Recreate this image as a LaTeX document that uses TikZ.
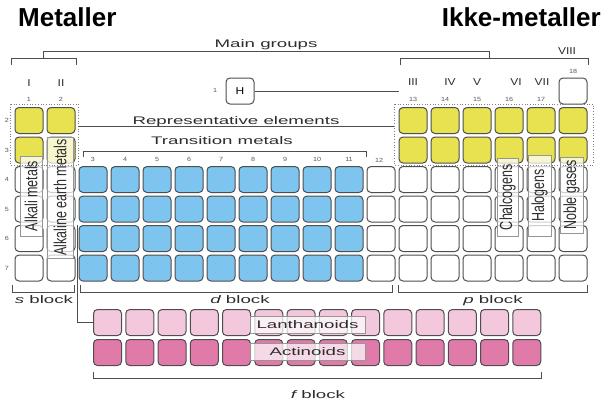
\documentclass[tikz,border=0pt]{standalone}
\usepackage{fontspec}
\setmainfont{Liberation Sans}
\newfontfamily\wide[FakeStretch=1.7]{Liberation Sans}
\newfontfamily\midwide[FakeStretch=1.2]{Liberation Sans}
\definecolor{elyellow}{RGB}{232,226,80}
\definecolor{elblue}{RGB}{125,196,238}
\definecolor{lanpink}{RGB}{243,200,220}
\definecolor{actpink}{RGB}{224,122,168}
\definecolor{edge}{RGB}{78,78,78}
\definecolor{tagedge}{RGB}{150,150,150}
\definecolor{txt}{RGB}{45,45,45}
\begin{document}
\begin{tikzpicture}[x=1pt,y=-1pt,
  cell/.style={draw=edge, line width=1pt, rounded corners=4pt, minimum width=28pt,
               minimum height=26pt, inner sep=0pt, fill=white},
  tag/.style={draw=tagedge, line width=0.6pt, fill=white, fill opacity=0.72,
              text opacity=1, inner sep=0pt, text=txt},
  vtag/.style={tag, rotate=90, font=\fontsize{12.5}{14}\selectfont},
  htag/.style={tag, font=\wide\fontsize{11}{13}\selectfont},
  brk/.style={draw=edge, line width=0.9pt},
  dotbox/.style={draw=gray, line width=0.7pt, dotted},
  lbl/.style={font=\wide\fontsize{11}{13}\selectfont, text=txt, inner sep=0pt, anchor=base},
  num/.style={font=\midwide\fontsize{6}{7}\selectfont, text=txt!80, inner sep=0pt},
  rom/.style={font=\midwide\fontsize{10}{12}\selectfont, text=txt, inner sep=0pt},
  title/.style={font=\bfseries\fontsize{26}{30}\selectfont, inner sep=0pt}]
\useasboundingbox (0,0) rectangle (612,402);

% headings
\node[title, anchor=base west] (tmet) at (18,26) {Metaller};
\node[title, anchor=base east] (tnon) at (601,26) {Ikke-metaller};

% periods 4-7: s, d and p block cells
\foreach \r in {4,...,7}{
  \foreach \g in {1,...,18}{
    \ifnum\g>2 \ifnum\g<12 \def\cf{elblue}\else\def\cf{white}\fi\else\def\cf{white}\fi
    \node[cell, fill=\cf] (c\r-\g) at ({29+32*(\g-1)}, {150+29.5*(\r-3)}) {};
  }
}
% periods 2-3: representative elements
\foreach \r in {2,3}{
  \foreach \g in {1,2,13,14,15,16,17,18}{
    \node[cell, fill=elyellow] (c\r-\g) at ({29+32*(\g-1)}, {150+29.5*(\r-3)}) {};
  }
}
% period 1
\node[cell, font=\midwide\fontsize{10}{12}\selectfont] (H) at (240,91) {H};
\node[cell] (c1-18) at (573,91) {};

% f block
\foreach \k in {1,...,14}{
  \node[cell, fill=lanpink] (la\k) at ({107.5+32.25*(\k-1)}, 322.5) {};
  \node[cell, fill=actpink] (ac\k) at ({107.5+32.25*(\k-1)}, 352.5) {};
}

% family labels
\node[vtag, minimum width=80pt, minimum height=22pt] (alk) at (31,196) {\scalebox{1}[1.4]{Alkali metals}};
\node[vtag, minimum width=121pt, minimum height=26pt] (alke) at (60,197.5) {\scalebox{1}[1.4]{Alkaline earth metals}};
\node[vtag, minimum width=78pt, minimum height=21pt] (chal) at (507.5,197) {\scalebox{1}[1.4]{Chalcogens}};
\node[vtag, minimum width=81pt, minimum height=23pt] (halo) at (539.5,195.5) {\scalebox{1}[1.4]{Halogens}};
\node[vtag, minimum width=76pt, minimum height=23pt] (nobl) at (571.5,195) {\scalebox{1}[1.4]{Noble gases}};
\node[htag, minimum width=115pt, minimum height=17pt] (lant) at (307.5,324.5) {Lanthanoids};
\node[htag, minimum width=115pt, minimum height=17pt] (acti) at (307.5,351.5) {Actinoids};

% dotted frames round the representative elements
\draw[dotbox] (10,104) rectangle (78,165);
\draw[dotbox] (394,104) rectangle (593,165);

% main groups bracket
\node[lbl] (mg) at (266,47) {Main groups};
\draw[brk] (43,58) -- (43,51) -- (489,51) -- (489,58);
\draw[brk] (11,65) -- (11,58) -- (76,58) -- (76,65);
\draw[brk] (400,65) -- (400,58) -- (588,58) -- (588,65);

% hydrogen line
\coordinate (hend) at (399,91);
\draw[brk] (H.east) -- (hend);

% representative elements
\node[lbl] (rep) at (236,124) {Representative elements};
\draw[brk] (78,126) -- (394,126);

% transition metals bracket
\node[lbl] (trm) at (222,144) {Transition metals};
\draw[brk] (83,157) -- (83,151) -- (366,151) -- (366,157);

% group numerals
\node[rom] (rI) at (29,83) {I};
\node[rom] (rII) at (61,83) {II};
\node[rom] (rIII) at (413,82) {III};
\node[rom] (rIV) at (450,82) {IV};
\node[rom] (rV) at (477,82) {V};
\node[rom] (rVI) at (516,82) {VI};
\node[rom] (rVII) at (542,82) {VII};
\node[rom] (rVIII) at (567,51) {VIII};

% group numbers
\node[num] (g1) at (29,99) {1};
\node[num] (g2) at (61,99) {2};
\foreach \g in {3,...,11}{
  \node[num] (g\g) at ({29+32*(\g-1)},159) {\g};
}
\node[num] (g12) at (379,160) {12};
\foreach \g in {13,...,17}{
  \node[num] (g\g) at ({29+32*(\g-1)},99) {\g};
}
\node[num] (g18) at (573,71) {18};

% period numbers
\node[num] (p1) at (215,90) {1};
\foreach \r in {2,...,7}{
  \node[num] (p\r) at (7,{150+29.5*(\r-3)}) {\r};
}

% block brackets
\draw[brk] (12,285) -- (12,292) -- (74,292) -- (74,285);
\draw[brk] (80,285) -- (80,292) -- (392,292) -- (392,285);
\draw[brk] (398,285) -- (398,292) -- (587,292) -- (587,285);
\draw[brk] (93,372) -- (93,378) -- (541,378) -- (541,372);
\node[lbl] (sb) at (44,303) {\itshape s\upshape\ block};
\node[lbl] (db) at (240,303) {\itshape d\upshape\ block};
\node[lbl] (pb) at (493,303) {\itshape p\upshape\ block};
\node[lbl] (fb) at (318,398) {\itshape f\upshape\ block};

% link from group 3 to the f block
\coordinate (lnk) at (77,225);
\draw[brk] (lnk) |- (la1.west);
\end{tikzpicture}
\end{document}
